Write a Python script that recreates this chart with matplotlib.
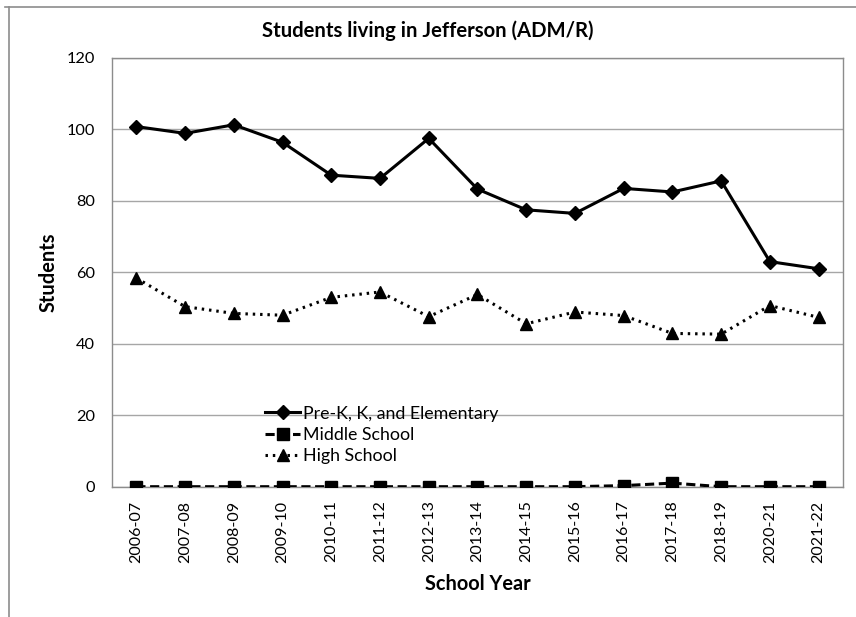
import matplotlib.pyplot as plt
from matplotlib.lines import Line2D

years = ['2006-07', '2007-08', '2008-09', '2009-10', '2010-11', '2011-12',
         '2012-13', '2013-14', '2014-15', '2015-16', '2016-17', '2017-18',
         '2018-19', '2020-21', '2021-22']
elementary = [100.8, 98.9, 101.3, 96.4, 87.2, 86.3, 97.5, 83.3,
              77.5, 76.5, 83.5, 82.5, 85.6, 63.0, 61.0]
middle = [0, 0, 0, 0, 0, 0, 0, 0, 0, 0, 0.3, 1.0, 0, 0, 0]
high = [58.4, 50.4, 48.5, 48.0, 53.0, 54.5, 47.6, 53.8,
        45.6, 48.9, 47.9, 42.9, 42.7, 50.7, 47.4]

plt.rcParams['font.family'] = ['Lato', 'DejaVu Sans']

fig = plt.figure(figsize=(8.56, 6.17), dpi=100)
ax = fig.add_axes([0.1308, 0.2112, 0.854, 0.6948])

x = range(len(years))
ax.plot(x, elementary, color='black', lw=2.2, marker='D', ms=7,
        label='Pre-K, K, and Elementary', zorder=4)
ax.plot(x, middle, color='black', lw=2.2, ls=(0, (3, 1.5)), marker='s', ms=8,
        label='Middle School', zorder=4)
ax.plot(x, high, color='black', lw=2.2, ls=(0, (0.8, 1.6)), marker='^', ms=9,
        label='High School', zorder=4)

ax.set_xlim(-0.5, len(years) - 0.5)
ax.set_ylim(0, 120)
ax.set_yticks(range(0, 121, 20))
ax.set_xticks(list(x))
ax.set_xticklabels(years, rotation=90, fontsize=11.5)
ax.tick_params(axis='y', labelsize=11.8, length=0, pad=12)
ax.tick_params(axis='x', length=0, pad=10)
ax.yaxis.grid(True, color='#a6a6a6', lw=1)
ax.set_axisbelow(True)
for s in ax.spines.values():
    s.set_color('#8c8c8c')
    s.set_linewidth(1)

ax.set_ylabel('Students', fontsize=14.4, fontweight='bold', labelpad=6)
ax.set_xlabel('School Year', fontsize=14.4, fontweight='bold', labelpad=8)
fig.text(0.4994, 0.951, 'Students living in Jefferson (ADM/R)',
         ha='center', va='center', fontsize=14.6, fontweight='bold')

ax.legend(loc='center left', bbox_to_anchor=(0.209, 0.1206), frameon=False,
          fontsize=12.8, handlelength=2.0, handletextpad=0.15, labelspacing=0.3,
          borderpad=0, borderaxespad=0)

# chart area border
fig.add_artist(Line2D([0.0105, 0.0105], [0.0, 0.9887], color='#8c8c8c', lw=1.2))
fig.add_artist(Line2D([0.006, 1.0], [0.9887, 0.9887], color='#8c8c8c', lw=1.2))

fig.savefig('out.png', dpi=100)
